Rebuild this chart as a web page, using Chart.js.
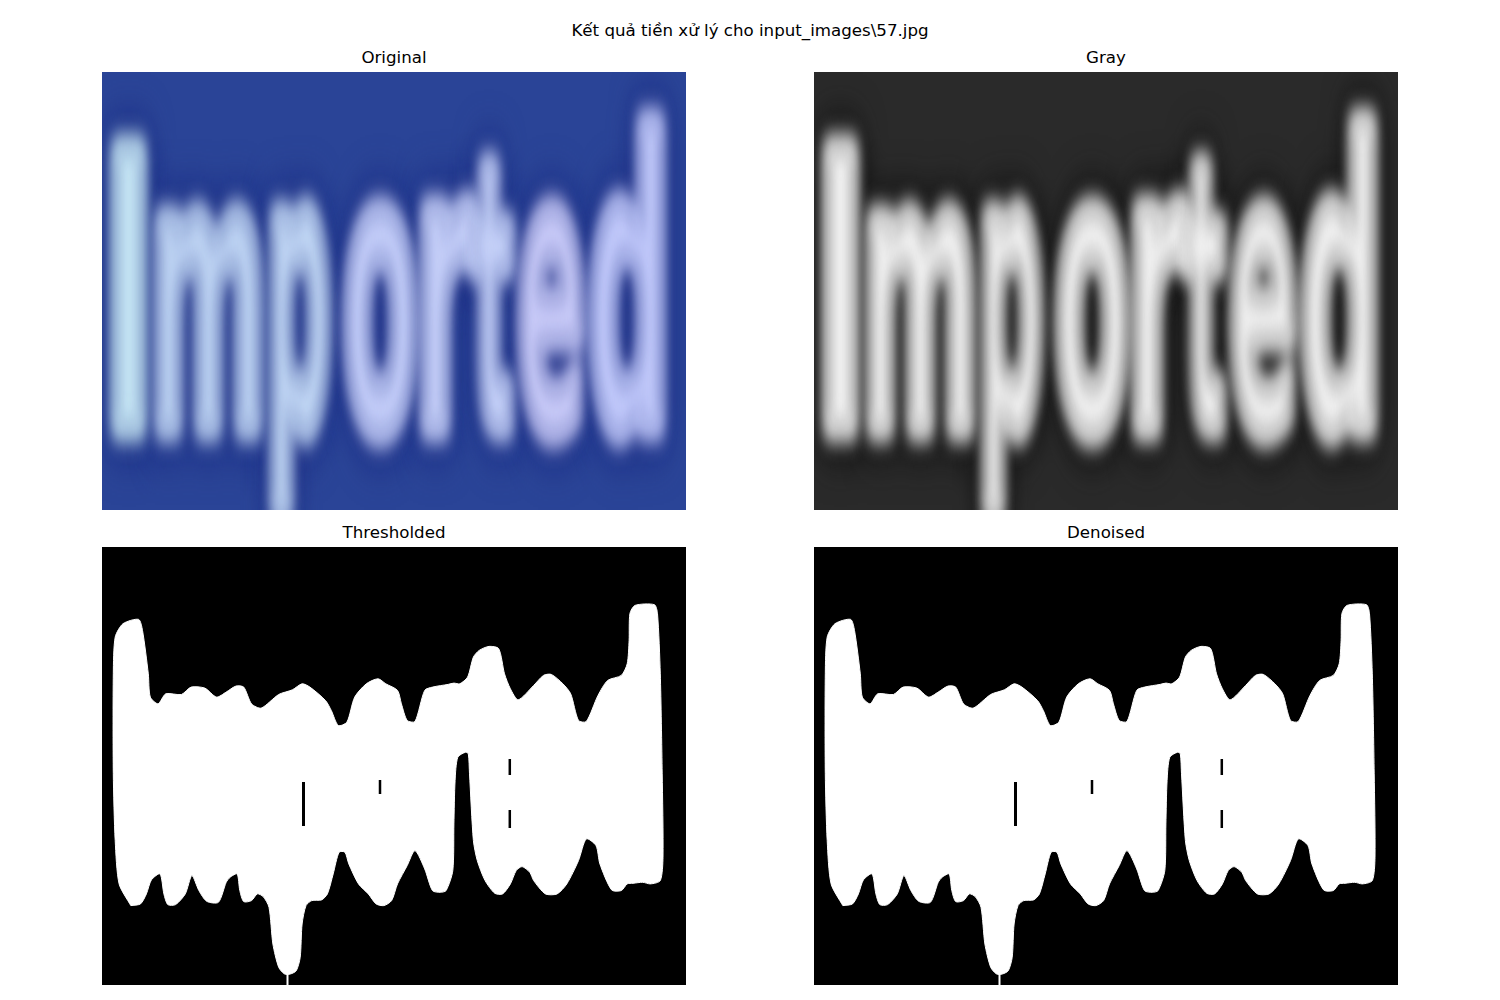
<!DOCTYPE html>
<html><head><meta charset="utf-8">
<script src="https://cdn.jsdelivr.net/npm/chart.js@4.4.1/dist/chart.umd.min.js"></script>
<style>
html,body{margin:0;padding:0;background:#fff;}
body{width:1500px;height:1000px;position:relative;overflow:hidden;font-family:"DejaVu Sans",sans-serif;}
.t{position:absolute;font-size:16.67px;line-height:20px;color:#000;text-align:center;white-space:nowrap;}
.p{position:absolute;width:584px;height:438px;}
</style></head><body>
<div class="t" style="left:0;width:1500px;top:21px">Kết quả tiền xử lý cho input_images\57.jpg</div>
<div class="t" id="t0" style="left:102px;width:584px;top:48px"></div>
<div class="t" id="t1" style="left:814px;width:584px;top:48px"></div>
<div class="t" id="t2" style="left:102px;width:584px;top:523px"></div>
<div class="t" id="t3" style="left:814px;width:584px;top:523px"></div>
<div class="p" style="left:102px;top:72px"><canvas id="c0"></canvas></div>
<div class="p" style="left:814px;top:72px"><canvas id="c1"></canvas></div>
<div class="p" style="left:102px;top:547px"><canvas id="c2"></canvas></div>
<div class="p" style="left:814px;top:547px"><canvas id="c3"></canvas></div>
<script>
// ---- data ----
const panelTitles = ['Original', 'Gray', 'Thresholded', 'Denoised'];
const imageWidth = 584;
const imageHeight = 438;

// letters of the word in the photo and their extent (image pixels)
const wordLetters = ['I', 'm', 'p', 'o', 'r', 't', 'e', 'd'];
const letterLeft  = [13, 56, 171, 245, 322, 372, 419, 490];
const letterRight = [40, 157, 226, 312, 374, 410, 479, 560];
const letterTop   = [74, 140, 136, 132, 130, 94, 132, 50];
const letterBase = 358;

// outline of the white mask (image pixels)
const maskX = [28.8,17.1,13.2,11.3,11.3,13.2,21.0,36.6,40.5,46.3,48.3,56.1,63.8,79.4,89.1,102.8,114.5,124.2,133.9,141.7,149.5,159.2,176.7,190.4,200.1,207.9,223.5,229.3,236.3,244.9,252.7,264.3,276.0,283.8,295.5,299.4,305.2,313.0,322.7,330.5,346.1,351.9,357.8,365.6,371.4,377.2,387.0,396.7,402.5,408.4,416.2,431.7,441.5,449.3,460.9,468.7,476.5,484.3,496.0,505.7,519.3,525.2,527.1,527.9,533.0,552.4,555.5,558.3,560.2,561.0,558.3,548.5,540.7,531.0,525.2,519.3,509.6,497.9,494.0,484.3,476.5,464.8,455.1,443.4,431.7,427.8,420.1,414.2,408.4,400.6,392.8,383.1,375.3,371.4,367.5,366.3,363.6,355.8,353.1,351.9,350.8,344.1,338.3,330.5,322.7,313.0,305.2,295.5,289.6,281.9,274.1,266.3,256.5,246.8,242.9,237.1,231.2,225.4,219.6,209.8,204.0,200.1,198.2,194.3,188.4,182.6,176.7,170.9,167.0,161.2,155.3,149.5,141.7,137.8,135.1,128.1,124.2,116.4,104.7,96.9,89.9,83.3,73.6,65.8,61.9,58.0,49.4,44.4,38.5,28.8];
const maskY = [358.6,336.9,293.6,226.8,126.8,90.1,76.7,72.4,83.4,126.8,150.1,156.8,146.8,147.5,140.1,141.1,150.1,145.1,139.1,140.1,156.8,161.1,147.5,142.8,136.8,140.1,153.5,163.5,178.5,175.1,150.1,136.8,131.8,136.8,143.4,156.8,173.5,174.5,143.4,140.1,137.4,136.1,136.8,130.1,110.1,103.4,99.4,101.7,126.8,141.8,152.8,138.4,128.4,127.4,136.8,146.8,173.5,174.5,148.4,133.4,128.4,116.8,93.4,66.7,58.4,57.7,66.7,126.8,226.8,310.2,333.6,336.9,335.3,336.3,336.9,343.6,342.9,316.9,298.6,291.9,313.6,336.9,346.9,346.9,333.6,325.3,319.6,323.6,336.9,346.9,346.3,333.6,313.6,293.6,226.8,206.8,205.2,210.2,233.5,276.9,323.6,343.6,345.3,343.6,321.9,303.6,318.6,336.9,353.6,358.6,356.9,346.9,336.9,316.9,305.2,305.2,326.9,346.9,352.9,353.6,358.6,377.0,410.3,423.7,427.0,427.0,420.3,397.0,360.3,349.6,346.9,353.6,354.6,343.6,326.9,330.3,335.3,355.3,354.3,343.6,328.6,346.9,357.6,357.6,346.9,326.9,332.9,346.9,356.9,358.6];

// thin white tail under the p, and black slits inside the mask
const tailX = [185.5, 185.5];
const tailY = [424, 438];
const slitX = [201.5, 278, 407.8, 407.8];
const slitTop = [235, 233, 212, 263];
const slitBottom = [279, 247, 228, 281];

// ---- drawing ----
const imagePlugin = {
  id: 'img',
  beforeDatasetsDraw(chart, args, o) {
    const {ctx, chartArea: a, scales: {x, y}} = chart;
    const w = a.right - a.left, h = a.bottom - a.top;
    ctx.save();
    ctx.beginPath();
    ctx.rect(a.left, a.top, w, h);
    ctx.clip();
    ctx.fillStyle = o.bg;
    ctx.fillRect(a.left, a.top, w, h);
    if (o.word) {
      // half-height layer so the blur is stronger vertically, like the stretched photo
      const off = document.createElement('canvas');
      off.width = Math.round(w);
      off.height = Math.round(h / 2);
      const c2 = off.getContext('2d');
      c2.font = 'bold 100px "DejaVu Sans"';
      c2.textBaseline = 'alphabetic';
      const basePx = y.getPixelForValue(letterBase) - a.top;
      const drawWord = (fills, blur, grow) => {
        c2.filter = 'blur(' + blur + 'px)';
        wordLetters.forEach((ch, i) => {
          const m = c2.measureText(ch);
          const inkL = m.actualBoundingBoxLeft, inkW = m.actualBoundingBoxLeft + m.actualBoundingBoxRight;
          const pl = x.getPixelForValue(letterLeft[i]) - a.left;
          const pr = x.getPixelForValue(letterRight[i]) - a.left;
          const topPx = y.getPixelForValue(letterTop[i]) - a.top;
          const sx = (pr - pl) / inkW;
          const sy = (basePx - topPx) / m.actualBoundingBoxAscent;
          const fill = Array.isArray(fills) ? fills[i] : fills;
          c2.save();
          c2.setTransform(1, 0, 0, 0.5, 0, 0);
          c2.translate(pl + inkL * sx, basePx);
          c2.scale(sx, sy);
          c2.fillStyle = fill;
          c2.fillText(ch, 0, 0);
          if (grow > 0) {
            c2.strokeStyle = fill;
            c2.lineWidth = grow;
            c2.lineJoin = 'round';
            c2.strokeText(ch, 0, 0);
          }
          c2.restore();
        });
      };
      drawWord(o.halo, 12, 10);
      drawWord(o.fg, 6, 5);
      c2.filter = 'none';
      ctx.drawImage(off, a.left, a.top, w, h);
    }
    ctx.restore();
  }
};

function pts(xs, ys) { return xs.map((v, i) => ({x: v, y: ys[i]})); }

function maskDatasets() {
  const ds = [];
  slitX.forEach((sx, i) => ds.push({
    data: [{x: sx, y: slitTop[i]}, {x: sx, y: slitBottom[i]}],
    fill: false, borderColor: '#000000', borderWidth: i === 0 ? 3 : 2.5, pointRadius: 0, order: 0
  }));
  ds.push({
    data: pts(tailX, tailY), fill: false, borderColor: '#ffffff', borderWidth: 2, pointRadius: 0, order: 1
  });
  ds.push({
    data: pts(maskX, maskY), fill: 'shape', backgroundColor: '#ffffff', borderColor: '#ffffff',
    borderWidth: 1, pointRadius: 0, tension: 0.25, order: 2
  });
  return ds;
}

const panelStyles = [
  {bg: '#2a4497', halo: '#1a2a80',
   fg: ['#c2e2f2', '#bcd2f2', '#c0d6f4', '#c2ccf8', '#c4cef8', '#c4d0f8', '#c8caf8', '#c0c8fa'], word: true},
  {bg: '#2a2a2a', halo: '#0e0e0e', fg: '#efefef', word: true},
  {bg: '#000000', word: false},
  {bg: '#000000', word: false}
];

panelTitles.forEach((t, i) => {
  document.getElementById('t' + i).textContent = t;
  new Chart(document.getElementById('c' + i), {
    type: 'line',
    data: {datasets: i >= 2 ? maskDatasets() : []},
    plugins: [imagePlugin],
    options: {
      responsive: true, maintainAspectRatio: false, animation: false, devicePixelRatio: 1,
      events: [],
      layout: {padding: 0},
      plugins: {legend: {display: false}, tooltip: {enabled: false}, img: panelStyles[i]},
      scales: {
        x: {type: 'linear', min: 0, max: imageWidth, display: false},
        y: {type: 'linear', min: 0, max: imageHeight, reverse: true, display: false}
      }
    }
  });
});
</script>
</body></html>
